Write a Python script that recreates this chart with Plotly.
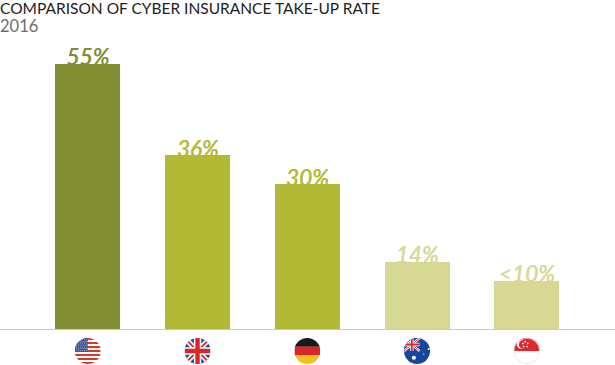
import base64
import plotly.graph_objects as go

countries = ["United States", "United Kingdom", "Germany", "Australia", "Singapore"]
values = [55, 36, 30, 14, 10]
labels = ["55%", "36%", "30%", "14%", "<10%"]
bar_colors = ["#838d33", "#b2b934", "#b2b934", "#d7d894", "#d7d894"]
title = "COMPARISON OF CYBER INSURANCE TAKE-UP RATE"
subtitle = "2016"


def stars(cx, cy, r, fill):
    return f'<circle cx="{cx}" cy="{cy}" r="{r}" fill="{fill}"/>'


def us():
    s = '<rect width="100" height="100" fill="#fff"/>'
    for i in range(0, 13, 2):
        s += f'<rect y="{i*100/13:.2f}" width="100" height="{100/13:.2f}" fill="#d8392b"/>'
    s += '<rect width="50" height="54" fill="#3a4f93"/>'
    for r in range(7):
        for c in range(6):
            s += stars(5 + c * 8 + (r % 2) * 3, 5 + r * 7.3, 1.9, "#fff")
    return s


def uk():
    return ('<rect width="100" height="100" fill="#1d4f94"/>'
            '<path d="M0 0L100 100M100 0L0 100" stroke="#fff" stroke-width="20"/>'
            '<path d="M0 0L100 100M100 0L0 100" stroke="#d8262c" stroke-width="7"/>'
            '<path d="M50 0V100M0 50H100" stroke="#fff" stroke-width="28"/>'
            '<path d="M50 0V100M0 50H100" stroke="#d8262c" stroke-width="17"/>')


def de():
    return ('<rect width="100" height="34" fill="#1a1a1a"/>'
            '<rect y="33" width="100" height="34" fill="#d8262c"/>'
            '<rect y="66" width="100" height="34" fill="#f5c11c"/>')


def au():
    s = ('<rect width="100" height="100" fill="#17479c"/>'
         '<g><rect width="60" height="50" fill="#17479c"/>'
         '<path d="M0 0L60 50M60 0L0 50" stroke="#fff" stroke-width="9"/>'
         '<path d="M0 0L60 50M60 0L0 50" stroke="#d8262c" stroke-width="3.5"/>'
         '<path d="M30 0V50M0 25H60" stroke="#fff" stroke-width="13"/>'
         '<path d="M30 0V50M0 25H60" stroke="#d8262c" stroke-width="7"/></g>')
    s += stars(38, 76, 8, "#fff") + stars(95, 42, 4, "#fff") + stars(76, 62, 2.5, "#fff")
    return s


def sg():
    s = ('<rect width="100" height="100" fill="#fff"/>'
         '<rect width="100" height="50" fill="#e0262b"/>'
         '<circle cx="28" cy="25" r="16" fill="#fff"/>'
         '<circle cx="35" cy="25" r="15" fill="#e0262b"/>')
    for x, y in [(42, 14), (52, 21), (49, 33), (36, 33), (33, 21)]:
        s += stars(x + 2, y, 3.3, "#fff")
    s += '<circle cx="50" cy="50" r="49" fill="none" stroke="#ddd" stroke-width="3"/>'
    return s


def flag_uri(body):
    svg = ('<svg xmlns="http://www.w3.org/2000/svg" width="104" height="104" viewBox="0 0 100 100">'
           '<defs><clipPath id="c"><circle cx="50" cy="50" r="50"/></clipPath></defs>'
           f'<g clip-path="url(#c)">{body}</g></svg>')
    return "data:image/svg+xml;base64," + base64.b64encode(svg.encode()).decode()


flags = [us(), uk(), de(), au(), sg()]

fig = go.Figure()
# Labels sit on the base axes so the bars (overlay axes) paint over their lower edge.
for c, v, l, col in zip(countries, values, labels, bar_colors):
    fig.add_trace(go.Scatter(x=[c], y=[v], text=[l], mode="text", textposition="top center",
                             textfont=dict(family="Lato", size=22.5, color=col, style="italic",
                                           shadow=f"0.5px 0 0 {col}"),
                             hoverinfo="skip", showlegend=False, xaxis="x", yaxis="y"))
fig.add_trace(go.Bar(x=countries, y=values, marker=dict(color=bar_colors, line_width=0), width=0.592,
                     hoverinfo="skip", showlegend=False, xaxis="x2", yaxis="y2"))

xr = [-0.8, 4.804]
yr = [0, 68.26]
label_drop = 1.45  # base y axis is offset so labels tuck behind the bar tops
fig.update_layout(
    width=615, height=365, margin=dict(l=0, r=0, t=0, b=36),
    paper_bgcolor="white", plot_bgcolor="rgba(0,0,0,0)",
    xaxis=dict(range=xr, type="category", categoryarray=countries, visible=False),
    yaxis=dict(range=[yr[0] + label_drop, yr[1] + label_drop], visible=False),
    xaxis2=dict(range=xr, type="category", categoryarray=countries, overlaying="x", showticklabels=False,
                showline=True, linecolor="#c9c9c9", linewidth=1, ticks="", showgrid=False),
    yaxis2=dict(range=yr, overlaying="y", visible=False),
    bargap=0,
    annotations=[
        dict(text=title, xref="paper", yref="paper", x=0, y=1, xanchor="left", yanchor="top", yshift=3, xshift=-2,
             showarrow=False, font=dict(family="Lato", size=15.5, color="#222222")),
        dict(text=subtitle, xref="paper", yref="paper", x=0, y=1, xanchor="left", yanchor="top", yshift=-14, xshift=-2,
             showarrow=False, font=dict(family="Lato", size=16.5, color="#6d6d6d")),
    ],
    images=[dict(source=flag_uri(f), xref="x", yref="paper", x=c, y=-22 / 329,
                 sizex=0.237, sizey=26 / 329, xanchor="center", yanchor="middle", layer="above")
            for c, f in zip(countries, flags)],
)
fig.write_html("out.html", post_script="document.body.style.margin='0';", config={"displayModeBar": False})
